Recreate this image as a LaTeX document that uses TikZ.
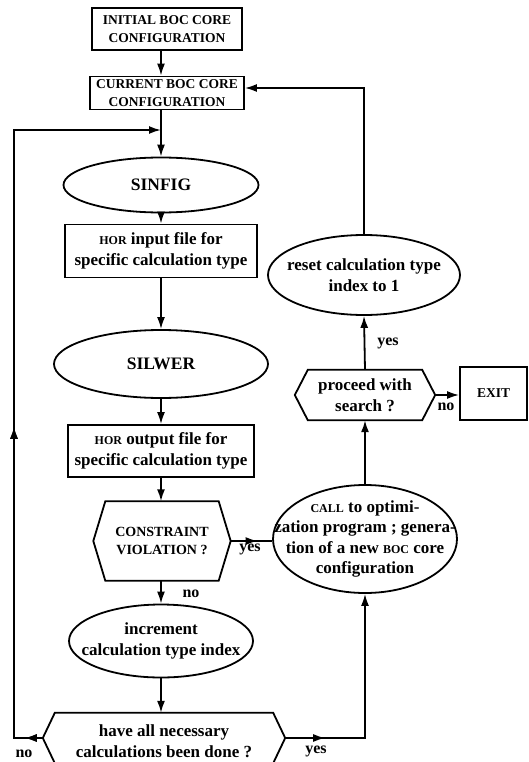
\documentclass[tikz,border=0pt]{standalone}
\usepackage{fontspec}
\setmainfont{Liberation Serif}
\usetikzlibrary{shapes.geometric,arrows.meta,decorations.markings,calc}

% type sizes used in the chart
\newcommand\bodysz{\fontsize{17}{20.5}\selectfont}
\newcommand\capsz{\fontsize{13.5}{18}\selectfont}
\newcommand\titlesz{\fontsize{17.5}{21}\selectfont}
\newcommand\smcaps[1]{{\fontsize{12}{13}\selectfont #1}}

\tikzset{
  flow/.style={line width=1.8pt, line join=miter},
  tip/.style={-{Latex[length=12pt,width=8pt]}},
  markat/.style={postaction={decorate},
    decoration={markings, mark=at position #1 with {\arrow{Latex[length=12pt,width=8pt]}}}},
  box/.style={draw, line width=1.8pt, rectangle, inner sep=0pt, align=center,
    font=\bfseries\bodysz},
  oval/.style={draw, line width=1.8pt, ellipse, inner sep=0pt},
  txt/.style={inner sep=0pt, align=center, font=\bfseries\bodysz},
  hexbody/.style={rectangle, inner sep=0pt, align=center, font=\bfseries\bodysz},
  hexline/.style={line width=1.8pt, line join=miter},
  lbl/.style={inner sep=0pt, font=\bfseries\fontsize{16}{18}\selectfont},
}

\begin{document}
\begin{tikzpicture}[x=1pt,y=-1pt]
\useasboundingbox (0,0) rectangle (529,762);
\clip (0,0) rectangle (529,762);

% ---------- main column ----------
\node[box, font=\bfseries\capsz, minimum width=150pt, minimum height=42pt] (init) at (167,29)
  {INITIAL BOC CORE\\CONFIGURATION};
\node[box, font=\bfseries\capsz, minimum width=154pt, minimum height=33pt] (curr) at (167,93)
  {CURRENT BOC CORE\\CONFIGURATION};

\node[oval, minimum width=195pt, minimum height=55pt] (sinfig) at (161,185) {};
\node[txt, font=\bfseries\titlesz] (sinfig-t) at (sinfig) {SINFIG};

\node[box, minimum width=192pt, minimum height=53pt] (horin) at (161,251)
  {\smcaps{HOR} input file for\\specific calculation type};

\node[oval, minimum width=214pt, minimum height=68pt] (silwer) at (161,364) {};
\node[txt, font=\bfseries\titlesz] (silwer-t) at (silwer) {SILWER};

\node[box, minimum width=186pt, minimum height=52pt] (horout) at (161,451)
  {\smcaps{HOR} output file for\\specific calculation type};

% constraint test (hexagon)
\node[hexbody, font=\bfseries\fontsize{14}{18}\selectfont, minimum width=113pt, minimum height=79pt] (cv) at (162,541)
  {CONSTRAINT\\VIOLATION ?};
\coordinate (cv-r) at ([xshift=12pt]cv.east);
\coordinate (cv-l) at ([xshift=-12pt]cv.west);
\draw[hexline] (cv.north west) -- (cv.north east) -- (cv-r) -- (cv.south east)
  -- (cv.south west) -- (cv-l) -- cycle;

\node[oval, minimum width=184pt, minimum height=73pt] (inc) at (161,641) {};
\node[txt] (inc-t) at (inc) {increment\\calculation type index};

% completion test (hexagon)
\node[hexbody, minimum width=218pt, minimum height=50pt] (ha) at (164,738) {};
\node[txt] (ha-t) at ([yshift=-3pt]ha.center) {have all necessary\\calculations been done ?};
\coordinate (ha-r) at ([xshift=12pt]ha.east);
\coordinate (ha-l) at ([xshift=-12pt]ha.west);
\draw[hexline] (ha.north west) -- (ha.north east) -- (ha-r) -- (ha.south east)
  -- (ha.south west) -- (ha-l) -- cycle;

% ---------- right column ----------
\node[oval, minimum width=184pt, minimum height=108pt] (call) at (365,539) {};
\node[txt] (call-t) at (call) {\smcaps{CALL} to optimi-\\zation program ; genera-\\tion of a new \smcaps{BOC} core\\configuration};

\node[hexbody, minimum width=114pt, minimum height=50pt] (pr) at (365,395)
  {proceed with\\search ?};
\coordinate (pr-r) at ([xshift=13pt]pr.east);
\coordinate (pr-l) at ([xshift=-13pt]pr.west);
\draw[hexline] (pr.north west) -- (pr.north east) -- (pr-r) -- (pr.south east)
  -- (pr.south west) -- (pr-l) -- cycle;

\node[box, font=\bfseries\capsz, minimum width=67pt, minimum height=53pt] (exit) at (493.5,393.5) {EXIT};

\node[oval, minimum width=192pt, minimum height=80pt] (reset) at (364,275) {};
\node[txt] (reset-t) at (reset) {reset calculation type\\index to 1};

% ---------- connectors ----------
\draw[flow,tip] (init.south -| sinfig.north) -- (curr.north -| sinfig.north);
\draw[flow,tip] (curr.south -| sinfig.north) -- (sinfig.north);
\draw[flow,tip] (sinfig.south) -- (horin.north);
\draw[flow,tip] (horin.south) -- (silwer.north);
\draw[flow,tip] (silwer.south) -- (horout.north);
\draw[flow,tip] (horout.south) -- (horout.south |- cv.north);
\draw[flow,tip] (horout.south |- cv.south) -- (inc.north);
\draw[flow,tip] (inc.south) -- (inc.south |- ha.north);

% loop back for the next calculation type
\coordinate (lb) at (14,738);
\coordinate (lt) at (14,130);
\draw[flow,tip,markat=18pt,markat=340pt] (ha-l) -- (lb) -- (lt) -- (lt -| sinfig.north);

% all calculations done: go to the optimizer
\coordinate (rb) at (ha-r -| call.south);
\draw[flow,tip,markat=40pt] (ha-r) -- (rb) -- (call.south);

\draw[flow,markat=0.65] (cv-r) -- (cv-r -| call.west);
\draw[flow,tip] (call.north) -- (pr.south);
\draw[flow,tip] (pr-r) -- (pr-r -| exit.west);
\draw[flow,tip] (pr.north) -- (reset.south);

\coordinate (rt) at (364,88);
\draw[flow,tip] (reset.north) -- (rt) -- (rt -| curr.east);

% ---------- branch labels ----------
\node[lbl] (l-cv-no) at (191,594) {no};
\node[lbl] (l-cv-yes) at (250,549) {yes};
\node[lbl] (l-ha-no) at (24,754) {no};
\node[lbl] (l-ha-yes) at (316,751) {yes};
\node[lbl] (l-pr-no) at (446,407) {no};
\node[lbl] (l-pr-yes) at (388,343) {yes};
\end{tikzpicture}
\end{document}
